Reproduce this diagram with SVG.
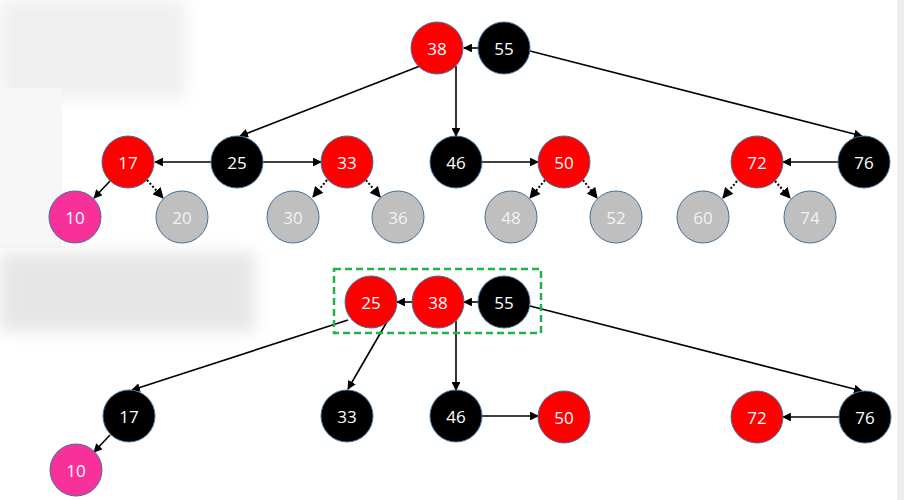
<svg xmlns="http://www.w3.org/2000/svg" width="904" height="500" viewBox="0 0 904 500">
<style>
.n circle{stroke:#41719C;stroke-width:1}
.r circle{fill:#FF0000}
.b circle{fill:#000000}
.p circle{fill:#F7309A}
.g circle{fill:#BFBFBF}
.n text{font-family:"Open Sans","Noto Sans",sans-serif;font-size:17px;fill:#FFFFFF;text-anchor:middle;dominant-baseline:central}
.g text{fill:#F2F2F2}
.e line{stroke:#000;stroke-width:1.6;marker-end:url(#ah)}
.e line.d{stroke-dasharray:2 2;stroke-width:2}
</style>
<defs>
<marker id="ah" viewBox="0 0 10 10" refX="9" refY="5" markerWidth="5.5" markerHeight="5.5" orient="auto" markerUnits="strokeWidth">
<path d="M0,0 L10,5 L0,10 z" fill="#000"/>
</marker>
<filter id="blur" x="-20%" y="-40%" width="140%" height="180%"><feGaussianBlur stdDeviation="8"/></filter>
</defs>
<rect width="904" height="500" fill="#FFFFFF"/>
<g id="redactions">
<rect x="0" y="0" width="185" height="98" fill="#EFEFEF" filter="url(#blur)"/>
<rect x="0" y="88" width="62" height="160" fill="#F7F7F7"/>
<rect x="0" y="252" width="255" height="80" fill="#E6E6E6" filter="url(#blur)"/>
<rect x="897" y="0" width="7" height="500" fill="#EDEDED"/>
</g>
<g id="connectors" class="e">
<line x1="478" y1="48" x2="464" y2="48"/>
<line x1="420" y1="66" x2="240" y2="136"/>
<line x1="456" y1="66" x2="456" y2="136"/>
<line x1="530" y1="51" x2="862" y2="136"/>
<line x1="211" y1="162" x2="155" y2="162"/>
<line x1="263" y1="162" x2="321" y2="162"/>
<line x1="482" y1="162" x2="538" y2="162"/>
<line x1="838" y1="162" x2="783" y2="162"/>
<line x1="110" y1="181" x2="94" y2="198"/>
<line class="d" x1="147" y1="180" x2="163" y2="198"/>
<line class="d" x1="327" y1="180" x2="313" y2="197"/>
<line class="d" x1="366" y1="180" x2="380" y2="197"/>
<line class="d" x1="545" y1="180" x2="530" y2="198"/>
<line class="d" x1="583" y1="180" x2="597" y2="198"/>
<line class="d" x1="737" y1="181" x2="723" y2="198"/>
<line class="d" x1="775" y1="181" x2="790" y2="198"/>
<line x1="478" y1="302" x2="464" y2="302"/>
<line x1="412" y1="302" x2="397" y2="302"/>
<line x1="348" y1="320" x2="132" y2="390"/>
<line x1="388" y1="320" x2="348" y2="389"/>
<line x1="456" y1="321" x2="456" y2="390"/>
<line x1="530" y1="306" x2="862" y2="391"/>
<line x1="482" y1="416" x2="538" y2="416"/>
<line x1="839" y1="417" x2="783" y2="417"/>
<line x1="110" y1="435" x2="94" y2="452"/>
</g>
<rect id="highlight" x="334" y="269" width="207" height="64" fill="none" stroke="#1FB24A" stroke-width="2.5" stroke-dasharray="7 4"/>
<g id="t38" class="n r"><circle cx="437" cy="48" r="26"/><text x="437" y="48">38</text></g>
<g id="t55" class="n b"><circle cx="504" cy="48" r="26"/><text x="504" y="48">55</text></g>
<g id="t17" class="n r"><circle cx="128" cy="162" r="26"/><text x="128" y="162">17</text></g>
<g id="t25" class="n b"><circle cx="237" cy="162" r="26"/><text x="237" y="162">25</text></g>
<g id="t33" class="n r"><circle cx="347" cy="162" r="26"/><text x="347" y="162">33</text></g>
<g id="t46" class="n b"><circle cx="456" cy="162" r="26"/><text x="456" y="162">46</text></g>
<g id="t50" class="n r"><circle cx="564" cy="162" r="26"/><text x="564" y="162">50</text></g>
<g id="t72" class="n r"><circle cx="757" cy="162" r="26"/><text x="757" y="162">72</text></g>
<g id="t76" class="n b"><circle cx="864" cy="162" r="26"/><text x="864" y="162">76</text></g>
<g id="t10" class="n p"><circle cx="75" cy="217" r="26"/><text x="75" y="217">10</text></g>
<g id="t20" class="n g"><circle cx="182" cy="217" r="26"/><text x="182" y="217">20</text></g>
<g id="t30" class="n g"><circle cx="293" cy="217" r="26"/><text x="293" y="217">30</text></g>
<g id="t36" class="n g"><circle cx="398" cy="217" r="26"/><text x="398" y="217">36</text></g>
<g id="t48" class="n g"><circle cx="511" cy="217" r="26"/><text x="511" y="217">48</text></g>
<g id="t52" class="n g"><circle cx="616" cy="217" r="26"/><text x="616" y="217">52</text></g>
<g id="t60" class="n g"><circle cx="703" cy="217" r="26"/><text x="703" y="217">60</text></g>
<g id="t74" class="n g"><circle cx="810" cy="217" r="26"/><text x="810" y="217">74</text></g>
<g id="b25" class="n r"><circle cx="371" cy="302" r="26"/><text x="371" y="302">25</text></g>
<g id="b38" class="n r"><circle cx="438" cy="302" r="26"/><text x="438" y="302">38</text></g>
<g id="b55" class="n b"><circle cx="504" cy="302" r="26"/><text x="504" y="302">55</text></g>
<g id="b17" class="n b"><circle cx="129" cy="416" r="26"/><text x="129" y="416">17</text></g>
<g id="b33" class="n b"><circle cx="347" cy="416" r="26"/><text x="347" y="416">33</text></g>
<g id="b46" class="n b"><circle cx="456" cy="416" r="26"/><text x="456" y="416">46</text></g>
<g id="b50" class="n r"><circle cx="564" cy="417" r="26"/><text x="564" y="417">50</text></g>
<g id="b72" class="n r"><circle cx="757" cy="417" r="26"/><text x="757" y="417">72</text></g>
<g id="b76" class="n b"><circle cx="865" cy="417" r="26"/><text x="865" y="417">76</text></g>
<g id="b10" class="n p"><circle cx="76" cy="470" r="26"/><text x="76" y="470">10</text></g>
</svg>
